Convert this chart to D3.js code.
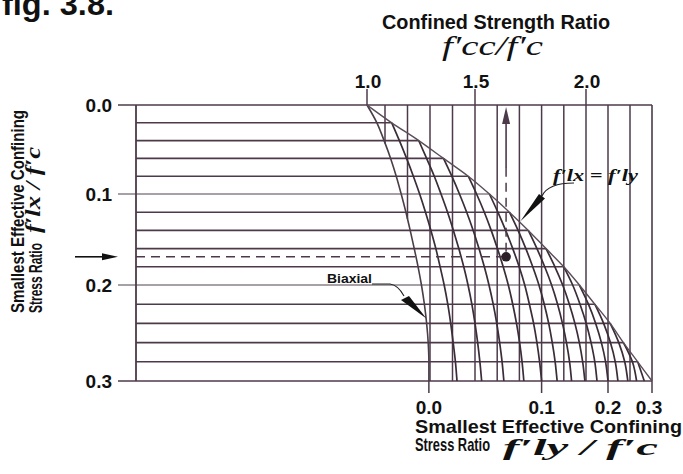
<!DOCTYPE html>
<html>
<head>
<meta charset="utf-8">
<script src="https://cdn.jsdelivr.net/npm/d3@7/dist/d3.min.js"></script>
<style>
  body { margin: 0; background: #fff; }
  svg { display: block; }
  text { font-family: "Liberation Sans", Arial, sans-serif; fill: #111; }
  .serif { font-family: "Liberation Serif", "DejaVu Serif", serif; font-style: italic; }
</style>
</head>
<body>
<svg id="chart" width="683" height="474"></svg>
<script>
// f'lx / f'c levels (left axis, one horizontal line each)
const levels = [0, 0.02, 0.04, 0.06, 0.08, 0.10, 0.12, 0.14, 0.16, 0.18, 0.20, 0.22, 0.24, 0.26, 0.28, 0.30];
// f'cc/f'c where f'lx = f'ly (outer envelope)
const envelopeK = [1.00, 1.13, 1.25, 1.36, 1.47, 1.565, 1.655, 1.74, 1.82, 1.90, 1.97, 2.04, 2.11, 2.17, 2.235, 2.30];
// biaxial curve (f'ly = 0)
const biaxialK = [1.00, 1.055, 1.095, 1.125, 1.15, 1.172, 1.193, 1.212, 1.23, 1.247, 1.262, 1.275, 1.285, 1.292, 1.295, 1.295];
// curves of constant f'ly, each starts at the envelope (f'lx = f'ly) and runs down to f'lx = 0.3
const flyValues = [0.02, 0.04, 0.06, 0.08, 0.10, 0.12, 0.14, 0.16, 0.18, 0.20, 0.22, 0.24, 0.26, 0.28];
const curveK = [
  [1.13, 1.164, 1.196, 1.226, 1.254, 1.280, 1.304, 1.326, 1.345, 1.363, 1.379, 1.392, 1.403, 1.413, 1.42],
  [1.25, 1.285, 1.319, 1.349, 1.378, 1.404, 1.428, 1.450, 1.469, 1.486, 1.500, 1.512, 1.522, 1.53],
  [1.36, 1.397, 1.431, 1.463, 1.492, 1.518, 1.542, 1.563, 1.582, 1.598, 1.611, 1.622, 1.63],
  [1.47, 1.507, 1.542, 1.573, 1.601, 1.627, 1.650, 1.670, 1.687, 1.701, 1.712, 1.72],
  [1.565, 1.603, 1.638, 1.670, 1.699, 1.724, 1.745, 1.764, 1.779, 1.791, 1.80],
  [1.655, 1.694, 1.729, 1.760, 1.788, 1.812, 1.832, 1.848, 1.861, 1.87],
  [1.74, 1.779, 1.814, 1.845, 1.872, 1.894, 1.912, 1.926, 1.935],
  [1.82, 1.860, 1.895, 1.925, 1.950, 1.970, 1.985, 1.995],
  [1.90, 1.940, 1.973, 2.001, 2.023, 2.040, 2.05],
  [1.97, 2.011, 2.044, 2.070, 2.089, 2.10],
  [2.04, 2.080, 2.111, 2.133, 2.145],
  [2.11, 2.149, 2.176, 2.19],
  [2.17, 2.211, 2.23],
  [2.235, 2.265]
];
// vertical grid lines (f'cc/f'c)
const gridK = [1.1, 1.2, 1.3, 1.4, 1.5, 1.6, 1.7, 1.8, 1.9, 2.0, 2.1, 2.2];
const topTicks = [1.0, 1.5, 2.0];
const leftTicks = [0.0, 0.1, 0.2, 0.3];
const bottomTicks = [0.0, 0.1, 0.2, 0.3];
const bottomTickK = [1.295, 1.80, 2.10, 2.30];
// worked example point
const exampleK = 1.64, exampleFl = 0.169;

const lineCol = "#4c3a4a";
const svg = d3.select("#chart");

// scanned figure is slightly uneven, so piecewise scales
const x = d3.scaleLinear().domain([1.0, 1.1, 1.5, 2.0, 2.3]).range([367, 385, 475, 586, 652]);
const y = d3.scaleLinear().domain([0, 0.1, 0.2, 0.3]).range([105, 194, 285, 381]);
const xLeft = 136, xTick = 118;

const g = svg.append("g");

// horizontal lines, each ends on the envelope
levels.forEach(function (f, i) {
    let x1 = x(envelopeK[i]);
    if (i == 0 || i == levels.length - 1) x1 = x(2.3);
    let isTick = leftTicks.some(t => Math.abs(t - f) < 1e-9);
    g.append("line")
        .attr("x1", isTick ? xTick : xLeft).attr("x2", x1)
        .attr("y1", y(f)).attr("y2", y(f))
        .attr("stroke", (isTick && i > 0 && i < levels.length - 1) ? "#8a8088" : lineCol)
        .attr("stroke-width", 1.6);
});

// vertical grid lines, from top down to the biaxial curve
function biaxialAt(k) {
    for (let i = 1; i < levels.length; i++) {
        if (biaxialK[i] >= k) {
            let t = (k - biaxialK[i - 1]) / (biaxialK[i] - biaxialK[i - 1]);
            return levels[i - 1] + t * (levels[i] - levels[i - 1]);
        }
    }
    return 0.3;
}
gridK.forEach(function (k) {
    g.append("line")
        .attr("x1", x(k)).attr("x2", x(k))
        .attr("y1", y(0)).attr("y2", y(biaxialAt(k)))
        .attr("stroke", lineCol).attr("stroke-width", 1.5);
});

// frame
g.append("line").attr("x1", xLeft).attr("x2", xLeft).attr("y1", y(0)).attr("y2", y(0.3))
    .attr("stroke", lineCol).attr("stroke-width", 1.8);
g.append("line").attr("x1", x(2.3)).attr("x2", x(2.3)).attr("y1", y(0)).attr("y2", y(0.3))
    .attr("stroke", lineCol).attr("stroke-width", 1.6);

// ticks
topTicks.forEach(k => g.append("line").attr("x1", x(k)).attr("x2", x(k)).attr("y1", 89).attr("y2", y(0))
    .attr("stroke", lineCol).attr("stroke-width", 1.5));
bottomTickK.forEach(k => g.append("line").attr("x1", x(k)).attr("x2", x(k)).attr("y1", y(0.3)).attr("y2", y(0.3) + 12)
    .attr("stroke", lineCol).attr("stroke-width", 1.5));

// curves
const curveLine = d3.line().x(d => x(d.k)).y(d => y(d.f)).curve(d3.curveMonotoneY);

flyValues.forEach(function (fly, j) {
    let start = levels.findIndex(f => Math.abs(f - fly) < 1e-9);
    let pts = curveK[j].map((k, i) => ({ k: k, f: levels[start + i] }));
    g.append("path").attr("d", curveLine(pts))
        .attr("fill", "none").attr("stroke", "#3a2c38").attr("stroke-width", 1.7);
});

g.append("path")
    .attr("d", curveLine(biaxialK.map((k, i) => ({ k: k, f: levels[i] }))))
    .attr("fill", "none").attr("stroke", "#4a3d48").attr("stroke-width", 1.6);
g.append("path")
    .attr("d", curveLine(envelopeK.map((k, i) => ({ k: k, f: levels[i] }))))
    .attr("fill", "none").attr("stroke", "#5a4c58").attr("stroke-width", 1.4);

// worked example: dashed lines, dot and arrows
const ex = x(exampleK), ey = y(exampleFl);
g.append("line").attr("x1", xLeft).attr("x2", ex - 4).attr("y1", ey).attr("y2", ey)
    .attr("stroke", lineCol).attr("stroke-width", 1.5).attr("stroke-dasharray", "9,6");
g.append("line").attr("x1", ex).attr("x2", ex).attr("y1", ey - 5).attr("y2", 165)
    .attr("stroke", lineCol).attr("stroke-width", 1.5).attr("stroke-dasharray", "9,6");
g.append("line").attr("x1", ex).attr("x2", ex).attr("y1", 168).attr("y2", 122)
    .attr("stroke", lineCol).attr("stroke-width", 1.6);
g.append("path").attr("d", `M${ex},${y(0) + 2} L${ex - 4},${y(0) + 19} L${ex + 4},${y(0) + 19} Z`)
    .attr("fill", lineCol);
g.append("circle").attr("cx", ex).attr("cy", ey).attr("r", 4.8).attr("fill", "#2a1f28");

// left input arrow
g.append("line").attr("x1", 75).attr("x2", 106).attr("y1", ey).attr("y2", ey)
    .attr("stroke", "#111").attr("stroke-width", 1.6);
g.append("path").attr("d", `M${xTick},${ey} L${xTick - 16},${ey - 3.5} L${xTick - 16},${ey + 3.5} Z`)
    .attr("fill", "#111");

// f'lx = f'ly pointer
const tip1 = [x(1.70) + 1, y(0.13)];
g.append("path").attr("d", "M574,183 Q548,183 542,196")
    .attr("fill", "none").attr("stroke", "#222").attr("stroke-width", 1.1);
g.append("path").attr("d", `M${tip1[0]},${tip1[1]} L539,194 L545,198.5 Z`).attr("fill", "#111");

// biaxial pointer
const tip2 = [x(1.284), y(0.235)];
g.append("path").attr("d", "M372,284 L390,284 Q398,285 404,296")
    .attr("fill", "none").attr("stroke", "#222").attr("stroke-width", 1.1);
g.append("path").attr("d", `M${tip2[0]},${tip2[1]} L401,300 L409,296 Z`).attr("fill", "#111");

// texts
function txt(s, xx, yy, size, opts) {
    opts = opts || {};
    let t = svg.append("text").attr("x", xx).attr("y", yy).attr("font-size", size)
        .attr("text-anchor", opts.anchor || "start").text(s)
        .style("font-weight", opts.weight || "bold");
    if (opts.cls) t.attr("class", opts.cls);
    if (opts.len) t.attr("textLength", opts.len).attr("lengthAdjust", "spacingAndGlyphs");
    if (opts.rot) t.attr("transform", `rotate(-90 ${xx} ${yy})`);
    return t;
}

txt("fig. 3.8.", 2, 15, 31, { len: 112 });
txt("Confined Strength Ratio", 382, 29, 21, { len: 228 });
txt("f\u2032cc/f\u2032c", 442, 55, 27, { cls: "serif", len: 101, weight: "normal" });

topTicks.forEach(k => txt(k.toFixed(1), x(k) + 1, 88, 19, { anchor: "middle" }));
leftTicks.forEach(f => txt(f.toFixed(1), 112, y(f) + 7, 19, { anchor: "end" }));
bottomTicks.forEach((f, i) => txt(f.toFixed(1), x(bottomTickK[i]) - (i == 3 ? 3 : 0), 414, 19, { anchor: "middle" }));

txt("Smallest Effective Confining", 24, 313, 18, { rot: true, len: 203 });
txt("Stress Ratio", 42, 313, 18, { rot: true, len: 70 });
txt("f\u2032lx / f\u2032c", 40, 233, 22, { rot: true, cls: "serif", len: 86 });

txt("Smallest Effective Confining", 415, 433, 19, { len: 267 });
txt("Stress Ratio", 415, 451, 19, { len: 75 });
txt("f\u2032ly / f\u2032c", 503, 455, 23, { cls: "serif", len: 155 });

txt("f\u2032lx = f\u2032ly", 553, 181, 17, { cls: "serif", len: 85 });
txt("Biaxial", 327, 283, 13, { len: 45 });
</script>
</body>
</html>
